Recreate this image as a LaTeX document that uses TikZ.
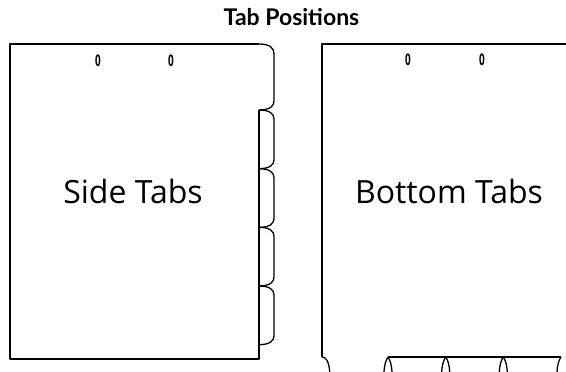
\documentclass[tikz,border=0pt]{standalone}
\usepackage{fontspec}
\setmainfont{Open Sans}
\newfontfamily\titlefont{Lato}
\tikzset{
    tablabel/.style={font=\fontsize{32}{36}\selectfont, anchor=base, inner sep=0pt},
    heading/.style={font=\titlefont\bfseries\fontsize{23}{26}\selectfont, anchor=base, inner sep=0pt},
    hole/.style={font=\fontsize{16}{18}\selectfont\bfseries, xscale=0.62, inner sep=0pt},
}
\begin{document}
\begin{tikzpicture}[x=1pt, y=-1pt, line width=1.3pt, line join=round]
    \useasboundingbox (0, 0) rectangle (566, 372);
    \clip (0, 0) rectangle (566, 372);
    % side tabs sheet
    \draw (259, 110) to (259, 359) to (10, 359) to (10, 44) to (259, 44);
    \draw (259, 44) .. controls (270, 44) and (274, 48) .. (274, 54) to (274, 101)
        .. controls (274, 106) and (270, 110) .. (259, 110);
    \foreach \y in {110, 168.7, 227.3, 286} {
        \draw (259, \y) .. controls (270, \y) and (274, \y+4) .. (274, \y+9) to (274, \y+49.7)
            .. controls (274, \y+54.7) and (270, \y+58.7) .. (259, \y+58.7);
    }
    % bottom tabs sheet
    \draw (566, 44) to (322, 44) to (322, 357);
    \draw (388, 357) to (561, 357);
    \draw (322, 357) .. controls (326, 357) and (329, 361) .. (330, 374);
    \foreach \x in {388, 445.7, 503.3, 561} {
        \draw (\x, 357) .. controls (\x-2, 360) and (\x-4, 365) .. (\x-4, 374);
    }
    \foreach \x in {388, 445.7, 503.3} {
        \draw (\x, 357) .. controls (\x+2, 360) and (\x+4, 365) .. (\x+4, 374);
    }
    % labels
    \node[heading] (title) at (291.5, 26) {Tab Positions};
    \node[tablabel] (side) at (133, 203) {Side Tabs};
    \node[tablabel] (bottom) at (449, 203) {Bottom Tabs};
    \node[hole] (sidehole1) at (98, 61) {0};
    \node[hole] (sidehole2) at (171, 61) {0};
    \node[hole] (bottomhole1) at (408, 60) {0};
    \node[hole] (bottomhole2) at (482, 60) {0};
\end{tikzpicture}
\end{document}
